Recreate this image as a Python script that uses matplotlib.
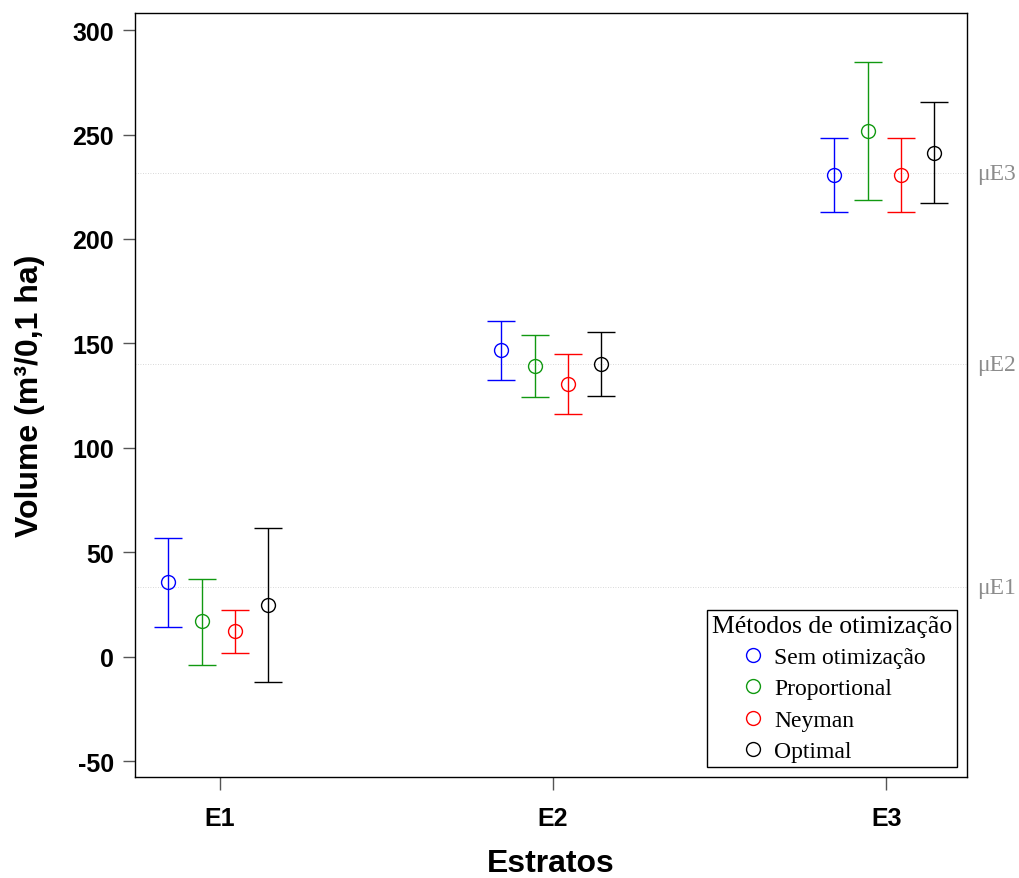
import matplotlib
matplotlib.use("Agg")
import matplotlib.pyplot as plt
from matplotlib.lines import Line2D
import numpy as np

# estratos e metodos
estratos = ["E1", "E2", "E3"]
metodos = ["Sem otimização", "Proportional", "Neyman", "Optimal"]
cores = ["#0000ff", "#119911", "#ff0000", "#000000"]

# medias estimadas por metodo (E1, E2, E3)
media_sem = [35.6, 146.8, 230.7]
media_prop = [16.9, 139.3, 251.7]
media_ney = [12.1, 130.5, 230.7]
media_opt = [24.8, 140.1, 241.3]

# limites inferior / superior dos intervalos
inf_sem = [14.2, 132.6, 213.0]
sup_sem = [56.7, 160.8, 248.4]
inf_prop = [-3.9, 124.1, 218.6]
sup_prop = [37.2, 153.8, 284.5]
inf_ney = [1.6, 116.2, 213.0]
sup_ney = [22.5, 144.7, 248.4]
inf_opt = [-12.0, 124.6, 217.0]
sup_opt = [61.6, 155.4, 265.4]

# medias verdadeiras por estrato
mu_estrato = [33.2, 140.1, 231.4]
mu_rotulos = ["μE1", "μE2", "μE3"]

medias = [media_sem, media_prop, media_ney, media_opt]
inferiores = [inf_sem, inf_prop, inf_ney, inf_opt]
superiores = [sup_sem, sup_prop, sup_ney, sup_opt]
deslocamentos = [-0.155, -0.055, 0.045, 0.145]

sans = ["Liberation Sans", "DejaVu Sans"]
serif = ["Liberation Serif", "DejaVu Serif"]
plt.rcParams["axes.unicode_minus"] = False

fig = plt.figure(figsize=(10.2, 8.79), dpi=100)
ax = fig.add_axes([0.1324, 0.1149, 0.8157, 0.8692])

x = np.arange(1, len(estratos) + 1)

for mu, rot in zip(mu_estrato, mu_rotulos):
    ax.axhline(mu, color="#cccccc", linestyle=(0, (1, 2)), linewidth=0.6, zorder=0)
    ax.annotate(rot, xy=(1.0, mu), xycoords=("axes fraction", "data"),
                xytext=(7, 0), textcoords="offset points", va="center", ha="left",
                fontsize=17, color="#8c8c8c", family=serif)

for m, lo, hi, c, d in zip(medias, inferiores, superiores, cores, deslocamentos):
    m = np.array(m)
    err = [m - np.array(lo), np.array(hi) - m]
    ax.errorbar(x + d, m, yerr=err, fmt="o", mfc="none", mec=c, ms=10, mew=1.0,
                ecolor=c, elinewidth=1.0, capsize=10, capthick=1.0, color=c)

ax.set_xlim(0.745, 3.243)
ax.set_ylim(-57.6, 308.2)
ax.set_xticks(x)
ax.set_xticklabels(estratos)
ax.set_yticks(np.arange(-50, 301, 50))

for lab in ax.get_xticklabels() + ax.get_yticklabels():
    lab.set_fontweight("bold")
    lab.set_fontsize(18)
    lab.set_family(sans)

ax.tick_params(axis="both", direction="out", length=9, width=1.0, color="#555555")
ax.tick_params(axis="y", pad=6)
ax.tick_params(axis="x", pad=12)
for s in ax.spines.values():
    s.set_color("black")
    s.set_linewidth(1.0)

ax.set_ylabel("Volume (m³/0,1 ha)", fontsize=23, fontweight="bold", family=sans, labelpad=20)
ax.set_xlabel("Estratos", fontsize=23, fontweight="bold", family=sans, labelpad=13)

handles = [Line2D([], [], linestyle="none", marker="o", mfc="none", mec=c, ms=10, mew=1.0)
           for c in cores]
leg = ax.legend(handles, metodos, title="Métodos de otimização", loc="lower right",
                bbox_to_anchor=(0.988, 0.013), prop={"family": serif, "size": 17},
                title_fontproperties={"family": serif, "size": 18.5},
                frameon=True, fancybox=False, framealpha=1, edgecolor="black",
                borderpad=0.2, labelspacing=0.42, handletextpad=0.3, handlelength=1.2,
                borderaxespad=0)
leg.get_frame().set_linewidth(1.0)

fig.savefig("out.png", dpi=100)
